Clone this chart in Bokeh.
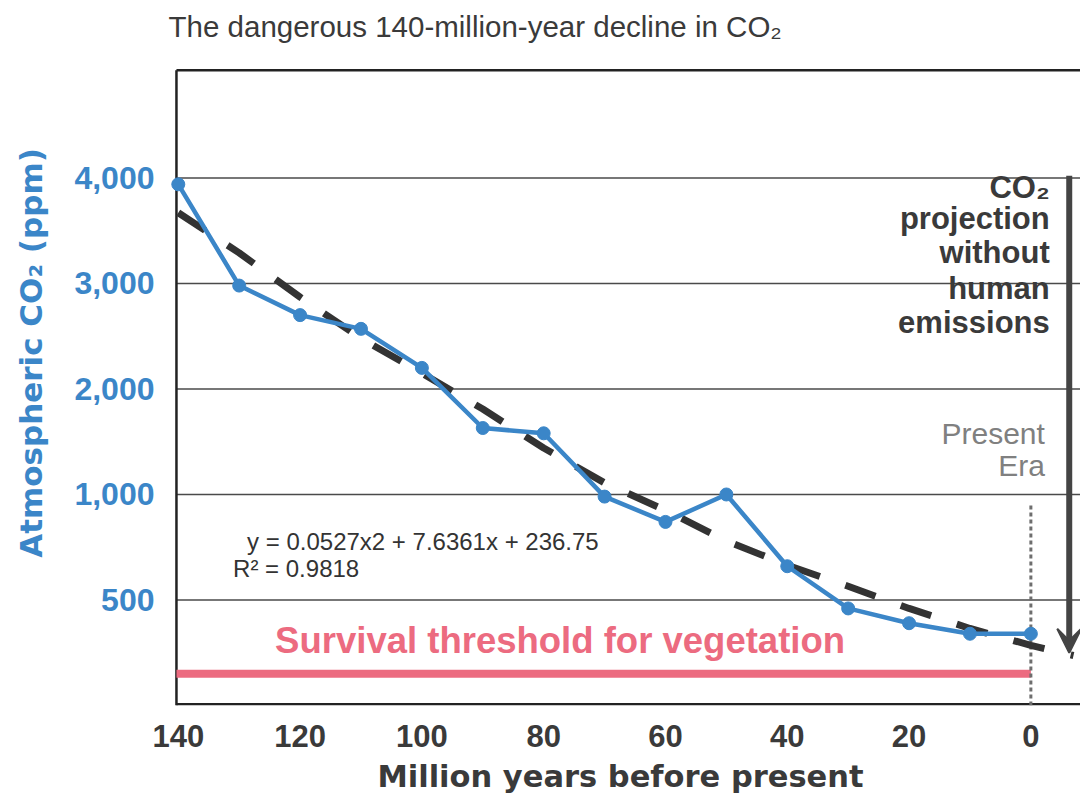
import numpy as np
from bokeh.plotting import figure
from bokeh.models import Range1d, FixedTicker, Arrow, VeeHead, ColumnDataSource
from bokeh.embed import file_html
from bokeh.resources import INLINE
from bokeh.core.properties import value

# ---------------- data ----------------
myr = [140, 130, 120, 110, 100, 90, 80, 70, 60, 50, 40, 30, 20, 10, 0]
co2_ppm = [3940, 2980, 2700, 2570, 2200, 1630, 1580, 990, 870, 1000, 660, 460, 390, 340, 340]

trend_myr = [140, 130, 120, 110, 100, 90, 80, 70, 60, 50, 40, 30, 20, 10, 0, -7]
trend_ppm = [3670, 3290, 2870, 2480, 2150, 1810, 1440, 1110, 925, 780, 665, 565, 460, 365, 285, 237]

threshold_ppm = 150
present_line_ppm = [0, 950]

y_tick_ppm = [500, 1000, 2000, 3000, 4000]
y_tick_labels = ["500", "1,000", "2,000", "3,000", "4,000"]
x_ticks = [140, 120, 100, 80, 60, 40, 20, 0]

title_text = "The dangerous 140-million-year decline in CO\u2082"
equation_text = "y = 0.0527x2 + 7.6361x + 236.75"
r2_text = "R\u00b2 = 0.9818"
survival_text = "Survival threshold for vegetation"
projection_lines = ["CO\u2082", "projection", "without", "human", "emissions"]
present_lines = ["Present", "Era"]


# The original chart's value axis is broken: 500 ppm per gridline below
# 1,000 ppm and 1,000 ppm per gridline above it.
def to_axis(ppm):
    ppm = np.asarray(ppm, dtype=float)
    return np.where(ppm <= 1000, ppm / 500.0, 1.0 + ppm / 1000.0)


BLUE = "#3b86c8"
DARK = "#3a3a3a"
PINK = "#ec6b80"
FONT = "Liberation Sans"
WIDE = "DejaVu Sans"

# plot box of the original chart (in axis units)
BOX_LEFT, BOX_RIGHT, BOX_TOP = 140.3, -8.15, 6.02

# The Bokeh frame reaches the top of the canvas so that the title can be
# drawn above the chart box; the box itself is drawn with lines.
p = figure(width=1080, height=800, output_backend="svg", toolbar_location=None,
           x_range=Range1d(142.92, BOX_RIGHT), y_range=Range1d(0, 6.682),
           min_border_left=160, min_border_right=0, min_border_top=0,
           min_border_bottom=95)
p.title.visible = False
p.background_fill_color = "white"
p.outline_line_color = None
p.xgrid.visible = False
p.ygrid.visible = False

y_tick_pos = [float(v) for v in to_axis(y_tick_ppm)]

# horizontal gridlines
p.segment(x0=[BOX_LEFT] * len(y_tick_pos), x1=[BOX_RIGHT] * len(y_tick_pos),
          y0=y_tick_pos, y1=y_tick_pos, line_color="#4a4a4a", line_width=1.5)

# chart box (left, top, bottom)
p.line(x=[BOX_LEFT, BOX_LEFT], y=[0, BOX_TOP], line_color="#222222", line_width=2.5)
p.line(x=[BOX_LEFT, BOX_RIGHT], y=[BOX_TOP, BOX_TOP], line_color="#222222", line_width=2.5)
p.line(x=[BOX_LEFT, BOX_RIGHT], y=[0.012, 0.012], line_color="#222222", line_width=2.5)

# title
p.text(x=[141.6], y=[6.44], text=[title_text], text_font=value(FONT),
       text_font_size="29.5px", text_color=DARK, text_baseline="middle",
       text_align="left")

# y axis
p.yaxis.ticker = FixedTicker(ticks=y_tick_pos)
p.yaxis.major_label_overrides = {k: v for k, v in zip(y_tick_pos, y_tick_labels)}
p.yaxis.axis_line_color = None
p.yaxis.major_tick_line_color = None
p.yaxis.minor_tick_line_color = None
p.yaxis.major_tick_out = 0
p.yaxis.major_tick_in = 0
p.yaxis.major_label_standoff = 6
p.yaxis.major_label_text_font = FONT
p.yaxis.major_label_text_font_style = "bold"
p.yaxis.major_label_text_font_size = "32px"
p.yaxis.major_label_text_color = BLUE
p.yaxis.axis_label = "Atmospheric CO\u2082 (ppm)"
p.yaxis.axis_label_text_font = WIDE
p.yaxis.axis_label_text_font_style = "bold"
p.yaxis.axis_label_text_font_size = "31px"
p.yaxis.axis_label_text_color = BLUE
p.yaxis.axis_label_standoff = 22

# x axis
p.xaxis.ticker = FixedTicker(ticks=x_ticks)
p.xaxis.axis_line_color = None
p.xaxis.major_tick_line_color = None
p.xaxis.minor_tick_line_color = None
p.xaxis.major_tick_out = 0
p.xaxis.major_tick_in = 0
p.xaxis.major_label_standoff = 19
p.xaxis.major_label_text_font = FONT
p.xaxis.major_label_text_font_style = "bold"
p.xaxis.major_label_text_font_size = "31px"
p.xaxis.major_label_text_color = DARK
p.xaxis.axis_label = "Million years before present"
p.xaxis.axis_label_text_font = WIDE
p.xaxis.axis_label_text_font_style = "bold"
p.xaxis.axis_label_text_font_size = "30.5px"
p.xaxis.axis_label_text_color = DARK
p.xaxis.axis_label_standoff = 9

# survival threshold line
p.line(x=[BOX_LEFT, x_ticks[-1]],
       y=list(to_axis([threshold_ppm, threshold_ppm])),
       line_color=PINK, line_width=8)

# present-era dotted line
p.line(x=[0, 0], y=list(to_axis(present_line_ppm)),
       line_color="#6e6e6e", line_width=3, line_dash="4 3")

# trend (dashed)
trend = ColumnDataSource(dict(x=trend_myr, y=to_axis(trend_ppm)))
p.line("x", "y", source=trend, line_color="#333333", line_width=7,
       line_dash="32 27", line_cap="butt")

# CO2 series
src = ColumnDataSource(dict(x=myr, y=to_axis(co2_ppm)))
p.line("x", "y", source=src, line_color=BLUE, line_width=4.5)
p.scatter("x", "y", source=src, size=13, fill_color=BLUE, line_color=BLUE)

# projection arrow
p.add_layout(Arrow(end=VeeHead(size=24, fill_color="#444444", line_color="#444444",
                               line_width=2),
                   x_start=-6.3, y_start=5.02, x_end=-6.3, y_end=0.5,
                   line_color="#444444", line_width=6))

# annotation texts
p.text(x=[128.7], y=[1.555], text=[equation_text], text_font=value(FONT),
       text_font_size="24px", text_color="#333333", text_baseline="middle",
       text_align="left")
p.text(x=[131.0], y=[1.30], text=[r2_text], text_font=value(FONT),
       text_font_size="24px", text_color="#333333", text_baseline="middle",
       text_align="left")
p.text(x=[124.1], y=[0.616], text=[survival_text], text_font=value(FONT),
       text_font_size="36.5px", text_font_style="bold", text_color=PINK,
       text_baseline="middle", text_align="left")
p.text(x=[-3.1] * len(projection_lines), y=[4.91, 4.62, 4.29, 3.95, 3.63],
       text=projection_lines, text_font=value(FONT), text_font_size="31px",
       text_font_style="bold", text_color=DARK, text_baseline="middle",
       text_align="right")
p.text(x=[-2.3] * len(present_lines), y=[2.58, 2.27], text=present_lines,
       text_font=value(FONT), text_font_size="30px", text_color="#808080",
       text_baseline="middle", text_align="right")

open("out.html", "w").write(file_html(p, INLINE))
